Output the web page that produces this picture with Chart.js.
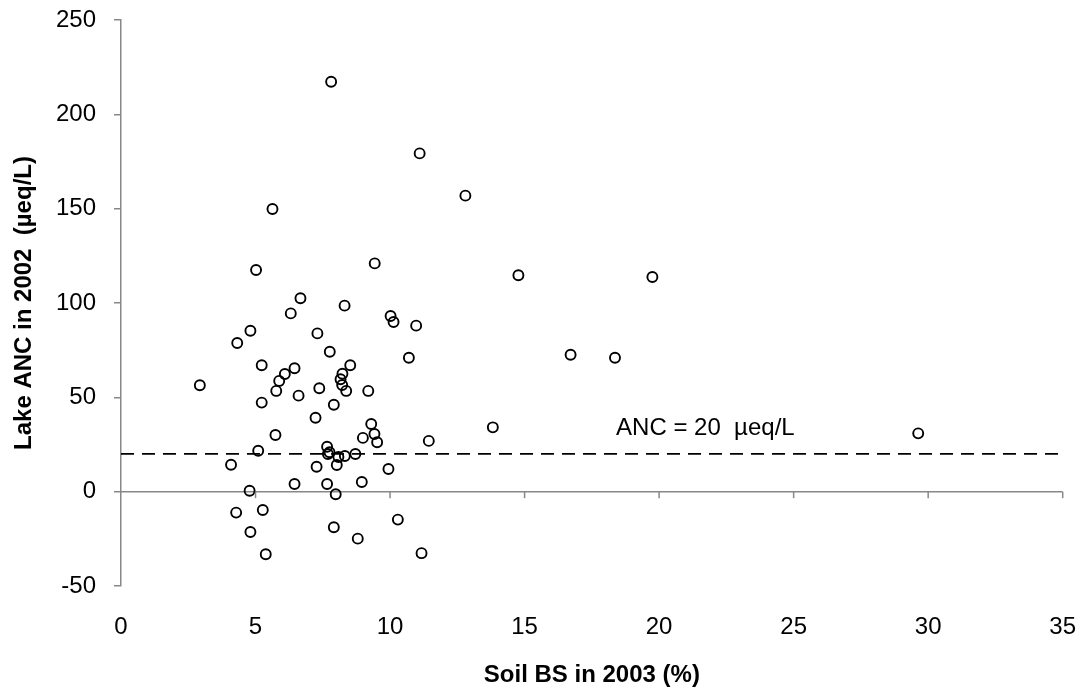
<!DOCTYPE html>
<html>
<head>
<meta charset="utf-8">
<script src="https://cdn.jsdelivr.net/npm/chart.js@4.4.1/dist/chart.umd.min.js"></script>
<style>
  html, body { margin: 0; padding: 0; background: #ffffff; }
  #wrap { width: 1091px; height: 695px; }
</style>
</head>
<body>
<div id="wrap"><canvas id="c" width="1091" height="695"></canvas></div>
<script>
// Soil base saturation in 2003 (%)
const soilBS = [
  2.93, 7.81, 11.10, 12.80, 5.63, 5.02, 9.43, 6.67, 8.31, 6.31,
  10.02, 10.13, 10.97, 4.81, 4.32, 7.30, 7.76, 10.70, 5.23, 8.52,
  6.45, 6.09, 8.23, 5.88, 8.16, 8.22, 8.37, 5.77, 7.37, 9.19,
  6.60, 5.23, 7.91, 7.23, 9.30, 9.42, 8.99, 9.52, 5.74, 11.44,
  5.10, 7.66, 7.75, 7.69, 8.08, 8.32, 8.71, 4.09, 7.27, 8.02,
  9.94, 6.45, 7.66, 8.95, 4.78, 7.98, 4.28, 5.27, 10.29, 4.81,
  7.91, 8.80, 5.38, 11.17, 14.77, 19.75, 16.71, 18.36, 13.82, 29.63
];
// Lake ANC in 2002 (µeq/L)
const lakeANC = [
  56.4, 217.3, 179.3, 156.9, 149.8, 117.5, 121.0, 102.5, 98.6, 94.5,
  93.1, 89.9, 88.0, 85.3, 78.8, 83.9, 74.2, 71.0, 67.0, 67.0,
  65.4, 62.4, 62.5, 58.7, 59.6, 56.5, 53.4, 53.4, 54.8, 53.4,
  50.9, 47.2, 46.1, 39.2, 35.9, 30.6, 28.5, 26.2, 30.0, 26.9,
  21.7, 23.8, 20.9, 20.0, 18.4, 18.9, 20.0, 14.3, 13.2, 14.1,
  12.0, 4.1, 4.1, 5.1, 0.5, -1.4, -11.1, -9.7, -14.8, -21.4,
  -18.9, -24.9, -33.2, -32.6, 114.7, 113.8, 72.6, 71.0, 34.1, 30.9
];
const xTicks = [0, 5, 10, 15, 20, 25, 30, 35];
const yTicks = [-50, 0, 50, 100, 150, 200, 250];
const ancThreshold = 20;
const annotationText = 'ANC = 20  \u00b5eq/L';
const annotationX = 18.4;
const annotationY = 30.3;

const FONT = "'Liberation Sans', Arial, Helvetica, sans-serif";
const points = soilBS.map((x, i) => ({ x: x, y: lakeANC[i] }));
const xMin = xTicks[0], xMax = xTicks[xTicks.length - 1];

const extras = {
  id: 'extras',
  afterDatasetsDraw(chart) {
    const { ctx, scales: { x, y } } = chart;
    ctx.save();
    // tick marks hanging from the zero line
    ctx.strokeStyle = '#888888';
    ctx.lineWidth = 1.5;
    const y0 = y.getPixelForValue(0);
    xTicks.forEach(v => {
      if (v === xMin) return;
      const px = x.getPixelForValue(v);
      ctx.beginPath();
      ctx.moveTo(px, y0);
      ctx.lineTo(px, y0 + 6.5);
      ctx.stroke();
    });
    // annotation
    ctx.fillStyle = '#000000';
    ctx.font = '24px ' + FONT;
    ctx.textAlign = 'left';
    ctx.textBaseline = 'alphabetic';
    ctx.fillText(annotationText, x.getPixelForValue(annotationX), y.getPixelForValue(annotationY));
    ctx.restore();
  }
};

new Chart(document.getElementById('c'), {
  type: 'scatter',
  data: {
    datasets: [
      {
        data: points,
        pointStyle: 'circle',
        pointRadius: 5,
        pointBorderWidth: 1.9,
        borderColor: '#000000',
        backgroundColor: 'rgba(0,0,0,0)',
        showLine: false,
        order: 0
      },
      {
        data: [{ x: xMin, y: ancThreshold }, { x: xMax, y: ancThreshold }],
        showLine: true,
        borderColor: '#000000',
        borderWidth: 1.8,
        borderDash: [13, 8],
        pointRadius: 0,
        order: 1
      },
      {
        data: [{ x: xMin, y: 0 }, { x: xMax, y: 0 }],
        showLine: true,
        borderColor: '#888888',
        borderWidth: 1.5,
        pointRadius: 0,
        order: 2
      }
    ]
  },
  options: {
    responsive: false,
    animation: false,
    events: [],
    layout: { padding: { left: 0, right: 28.3, top: 20, bottom: 0 } },
    plugins: { legend: { display: false }, tooltip: { enabled: false } },
    scales: {
      x: {
        type: 'linear',
        position: 'bottom',
        min: xMin,
        max: xMax,
        afterBuildTicks: s => { s.ticks = xTicks.map(v => ({ value: v })); },
        ticks: { font: { family: FONT, size: 24 }, color: '#000000', padding: 27, maxRotation: 0 },
        grid: { display: false, drawTicks: false, tickLength: 0 },
        border: { display: false },
        title: {
          display: true,
          text: 'Soil BS in 2003 (%)',
          font: { family: FONT, size: 24, weight: 'bold' },
          color: '#000000',
          padding: { top: 0, bottom: 5 }
        },
        afterFit: s => { s.height = 109; s.paddingLeft = 0; s.paddingRight = 0; }
      },
      y: {
        type: 'linear',
        min: yTicks[0],
        max: yTicks[yTicks.length - 1],
        afterBuildTicks: s => { s.ticks = yTicks.map(v => ({ value: v })); },
        ticks: { font: { family: FONT, size: 24 }, color: '#000000', padding: 18 },
        grid: { display: true, drawOnChartArea: false, drawTicks: true, tickLength: 7, color: '#888888', lineWidth: 1.5 },
        border: { display: true, color: '#888888', width: 1.5 },
        title: {
          display: true,
          text: 'Lake ANC in 2002  (\u00b5eq/L)',
          font: { family: FONT, size: 24, weight: 'bold' },
          color: '#000000',
          padding: { top: 9.6, bottom: 0 }
        },
        afterFit: s => { s.width = 121; s.paddingTop = 0; s.paddingBottom = 0; }
      }
    }
  },
  plugins: [extras]
});
</script>
</body>
</html>
